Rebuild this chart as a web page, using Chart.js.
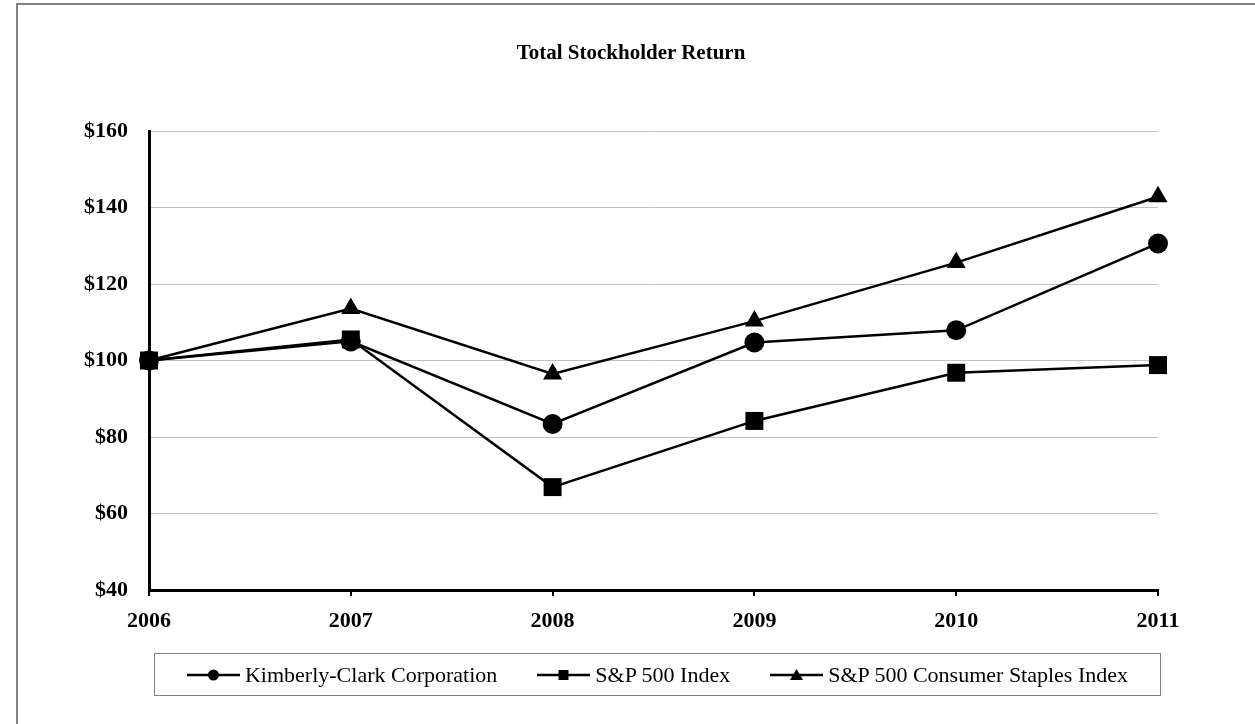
<!DOCTYPE html>
<html>
<head>
<meta charset="utf-8">
<script src="https://cdn.jsdelivr.net/npm/chart.js@4.4.1/dist/chart.umd.min.js"></script>
<style>
  html, body { margin: 0; padding: 0; background: #fff; overflow: hidden; }
  body { width: 1255px; height: 724px; position: relative; font-family: "Liberation Serif", "Times New Roman", serif; }
  .frame { position: absolute; left: 16px; top: 3px; width: 2000px; height: 2000px;
           border-left: 2px solid #808080; border-top: 2px solid #808080; }
  .title { position: absolute; left: 0; top: 39px; width: 1262px; text-align: center;
           font-weight: bold; font-size: 21px; line-height: 26px; color: #000; }
  #chart { position: absolute; left: 0; top: 0; }
  .legend { position: absolute; left: 154px; top: 653px; width: 1005px; height: 41px;
            border: 1px solid #808080; display: flex; align-items: center; justify-content: center;
            gap: 40px; font-size: 22px; color: #000; }
  .legend .item { display: flex; align-items: center; white-space: nowrap; }
  .legend svg { margin-right: 5px; }
</style>
</head>
<body>
<div class="frame"></div>
<canvas id="chart" width="1255" height="724"></canvas>
<div class="title">Total Stockholder Return</div>
<div class="legend" id="legend"></div>

<script>
// values
const years = ['2006', '2007', '2008', '2009', '2010', '2011'];
const kimberlyClark = [100, 105.0, 83.4, 104.7, 107.9, 130.6];
const sp500 = [100, 105.5, 66.9, 84.2, 96.8, 98.8];
const consumerStaples = [100, 113.6, 96.5, 110.3, 125.6, 142.8];

const seriesNames = ['Kimberly-Clark Corporation', 'S&P 500 Index', 'S&P 500 Consumer Staples Index'];
const yTicks = [40, 60, 80, 100, 120, 140, 160];

const serif = '"Liberation Serif", "Times New Roman", serif';

function makeSet(label, data, style, radius) {
  return {
    label: label,
    data: data,
    borderColor: '#000',
    backgroundColor: '#000',
    borderWidth: 2.5,
    pointStyle: style,
    pointRadius: radius,
    pointHoverRadius: radius,
    pointBorderWidth: 0,
    tension: 0,
    clip: false
  };
}

const ctx = document.getElementById('chart');
const chart = new Chart(ctx, {
  type: 'line',
  data: {
    labels: years,
    datasets: [
      makeSet(seriesNames[2], consumerStaples, 'triangle', 11),
      makeSet(seriesNames[1], sp500, 'rect', 12.7),
      makeSet(seriesNames[0], kimberlyClark, 'circle', 10)
    ]
  },
  options: {
    responsive: false,
    animation: false,
    devicePixelRatio: 1,
    layout: { padding: { left: 0, top: 131, right: 97, bottom: 90 } },
    plugins: {
      legend: { display: false },
      title: { display: false },
      tooltip: { enabled: false }
    },
    scales: {
      x: {
        type: 'category',
        offset: false,
        grid: { drawOnChartArea: false, drawTicks: true, tickLength: 6, color: '#000', lineWidth: 2 },
        border: { color: '#000', width: 3 },
        ticks: { color: '#000', padding: 12, font: { family: serif, size: 22, weight: 'bold' } },
        afterFit: function(s) { s.height = 44; }
      },
      y: {
        min: 40,
        max: 160,
        afterBuildTicks: function(s) { s.ticks = yTicks.map(v => ({ value: v })); },
        grid: { color: '#c0c0c0', lineWidth: 1, drawTicks: false },
        border: { color: '#000', width: 3 },
        ticks: {
          color: '#000',
          padding: 21,
          font: { family: serif, size: 22, weight: 'bold' },
          callback: function(v) { return '$' + v; }
        },
        afterFit: function(s) { s.width = 149; }
      }
    }
  }
});

// legend: line with marker, then name
function legendIcon(style) {
  let mark = '';
  if (style === 'circle') mark = '<circle cx="26.5" cy="8" r="5.5" fill="#000"/>';
  if (style === 'rect') mark = '<rect x="21.5" y="3" width="10" height="10" fill="#000"/>';
  if (style === 'triangle') mark = '<polygon points="26.5,2 33,13 20,13" fill="#000"/>';
  return '<svg width="53" height="16"><line x1="0" y1="8" x2="53" y2="8" stroke="#000" stroke-width="2.5"/>' + mark + '</svg>';
}
const legendStyles = ['circle', 'rect', 'triangle'];
let html = '';
seriesNames.forEach(function(name, i) {
  html += '<div class="item">' + legendIcon(legendStyles[i]) + '<span>' + name.replace('&', '&amp;') + '</span></div>';
});
document.getElementById('legend').innerHTML = html;
</script>
</body>
</html>
